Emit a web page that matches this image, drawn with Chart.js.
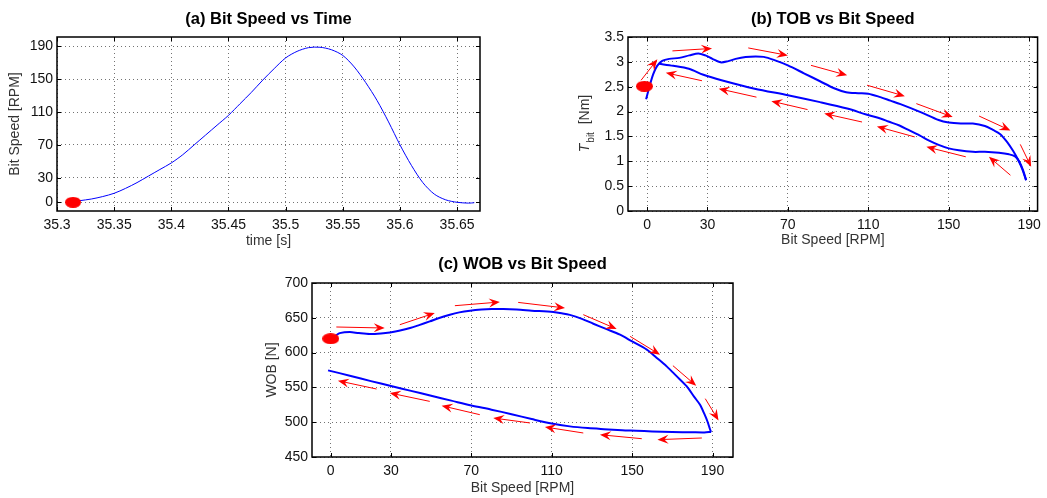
<!DOCTYPE html>
<html>
<head>
<meta charset="utf-8">
<script src="https://cdn.jsdelivr.net/npm/chart.js@4.4.0/dist/chart.umd.min.js"></script>
<style>
  body { margin: 0; background: #fff; width: 1047px; height: 498px; position: relative; overflow: hidden; }
  canvas { position: absolute; }
</style>
</head>
<body>
<canvas id="speedChart" width="490" height="250" style="left:0;top:0"></canvas>
<canvas id="tobChart" width="487" height="250" style="left:560px;top:0"></canvas>
<canvas id="wobChart" width="500" height="248" style="left:240px;top:250px"></canvas>
<script>
// (a) bit speed vs time
const timeS = [35.315, 35.32, 35.33, 35.34, 35.35, 35.36, 35.37, 35.38, 35.39, 35.40, 35.41, 35.42, 35.43, 35.44, 35.45,
  35.46, 35.47, 35.48, 35.49, 35.50, 35.51, 35.52, 35.53, 35.54, 35.55, 35.56, 35.57, 35.58, 35.59, 35.60,
  35.61, 35.62, 35.63, 35.64, 35.65, 35.66, 35.665];
const bitSpeedRpm = [1, 2, 4, 7, 11, 17, 24, 32, 40, 48, 58, 70, 82, 94, 106,
  120, 134, 149, 163, 176, 184, 188.5, 189, 186, 179, 165, 146, 124, 98, 70,
  45, 24, 10, 3, 0, -1, -0.5];

// (b) torque on bit vs bit speed, speed-up branch then return branch
const tobUpSpeed = [-0.5, 1.5, 3, 5, 7.5, 11, 16, 21, 25.5, 29, 32.5, 36.5, 40, 44, 49, 54, 58, 63, 70, 78, 86, 93, 99,
  105, 110, 116, 121, 126, 136, 145, 150, 156, 162, 168, 172, 175.5, 179, 182, 184.5, 186.5, 188.5];
const tobUp = [2.25, 2.55, 2.75, 2.92, 3.02, 3.06, 3.08, 3.13, 3.17, 3.13, 3.06, 2.99, 3.01, 3.06, 3.10, 3.11, 3.10, 3.04, 2.93, 2.77, 2.61, 2.47, 2.39,
  2.37, 2.36, 2.29, 2.22, 2.15, 1.99, 1.83, 1.78, 1.76, 1.76, 1.71, 1.63, 1.55, 1.39, 1.21, 1.03, 0.85, 0.62];
const tobDownSpeed = [188.5, 187, 185, 183, 180, 175, 168, 162, 155, 150, 145, 140, 135.5, 130, 125.5, 120, 116, 109,
  99.5, 86, 70, 53.5, 37, 28, 20.8, 13, 6];
const tobDown = [0.62, 0.82, 1.0, 1.10, 1.14, 1.17, 1.19, 1.19, 1.22, 1.26, 1.33, 1.42, 1.52, 1.63, 1.72, 1.80, 1.86, 1.94,
  2.06, 2.19, 2.33, 2.46, 2.63, 2.74, 2.86, 2.92, 2.96];

// (c) weight on bit vs bit speed
const wobUpSpeed = [0.5, 2.5, 4.5, 9.5, 14, 19.5, 25, 29.5, 34, 39.5, 44, 49.3, 54, 59.3, 64, 69.3, 75, 80, 86, 92.5, 100,
  110.8, 115, 119, 125, 130.7, 137, 144, 150, 157.3, 162, 167.2, 172, 177.2, 181, 183.8, 186, 187.5, 188.8, 189.3];
const wobUp = [621, 624.5, 628, 629.5, 628, 626.7, 627.5, 629, 631.5, 635.3, 639.5, 644.8, 649.8, 654.5, 657.8, 660.2, 661.8, 662.5, 662.5, 661.8, 660.3,
  658.3, 656.5, 654.2, 648.5, 641.5, 634, 625.7, 616, 604.2, 593, 580.2, 566.5, 551.4, 536, 525, 511.5, 501, 489.5, 486];
const wobDownSpeed = [189.3, 186, 180, 170, 160, 152, 145, 136, 128, 119, 110, 100, 90, 80, 70, 60, 50, 40, 30, 20, 10, -1.3];
const wobDown = [486, 485.3, 485.5, 486, 486.8, 487.8, 488.5, 490, 491.5, 494, 498, 504.5, 511.5, 518, 524, 531, 538, 545, 552, 559, 566.5, 574.5];

// start markers [x, y]
const startA = [35.314, 0];
const startB = [-1.3, 2.51];
const startC = [0, 620];

// direction arrows [x0, y0, x1, y1] in data units
const tobArrows = [
  [-3, 2.63, 5.1, 3.05], [12.6, 3.22, 32.3, 3.27], [50.3, 3.28, 70, 3.13], [81.5, 2.93, 99.5, 2.73],
  [109.4, 2.53, 128.2, 2.31], [133.9, 2.16, 152, 1.89], [165.1, 1.91, 180.7, 1.62], [185.6, 1.34, 191, 0.89],
  [180.7, 0.72, 170, 1.09], [158.5, 1.09, 138.9, 1.29], [133.1, 1.49, 114.3, 1.70], [106.9, 1.79, 88.1, 1.96],
  [79.8, 2.04, 61.8, 2.21], [54.4, 2.29, 35.6, 2.46], [27.3, 2.62, 9.3, 2.78]
];
const wobArrows = [
  [2.8, 636.8, 26.9, 635.3], [34.4, 640.1, 51.8, 656.9], [61.8, 667.4, 84.2, 672.7], [93.3, 672.1, 116.6, 664.1],
  [125.7, 654.5, 142.3, 633.9], [149, 623.3, 163.9, 597], [170.3, 581.2, 181.9, 552.4], [186.4, 533.8, 193, 502.6],
  [184.7, 477.3, 162.6, 474.9], [154.8, 476.3, 134, 482], [125.7, 484.5, 106.6, 493.1], [99.2, 498.9, 80.9, 506],
  [74.2, 510.8, 55.2, 523.7], [49.3, 529.9, 29.4, 542], [22.8, 547.7, 3.6, 559.6]
];

// ticks
const timeTicks = [35.3, 35.35, 35.4, 35.45, 35.5, 35.55, 35.6, 35.65];
const rpmTicks = [0, 30, 70, 110, 150, 190];
const tobTicks = [0, 0.5, 1, 1.5, 2, 2.5, 3, 3.5];
const wobTicks = [450, 500, 550, 600, 650, 700];

const FONT = '"Liberation Sans", Arial, Helvetica, sans-serif';
Chart.defaults.font.family = FONT;
Chart.defaults.animation = false;

const pts = (xs, ys) => xs.map((x, i) => ({x: x, y: ys[i]}));
const fmt = v => String(Number(v.toFixed(2)));

function makeDot(w, h) {
  const c = document.createElement('canvas');
  c.width = w; c.height = h;
  const g = c.getContext('2d');
  g.fillStyle = '#ff0000';
  g.beginPath();
  g.ellipse(w / 2, h / 2, w / 2, h / 2, 0, 0, Math.PI * 2);
  g.fill();
  return c;
}

function axis(min, max, ticks, title, size, tickPad, titlePad, isX) {
  return {
    type: 'linear', min: min, max: max,
    afterBuildTicks: s => { s.ticks = ticks.map(v => ({value: v})); },
    afterFit: s => { if (isX) s.height = size; else s.width = size; },
    grid: {color: 'rgba(0,0,0,0.55)', drawTicks: false},
    border: {display: false, dash: [1, 3]},
    ticks: {padding: tickPad, font: {size: 14}, color: '#111', callback: fmt, maxRotation: 0, autoSkip: false},
    title: {display: !!title, text: title, font: {size: 14}, color: '#333',
      padding: isX ? {top: 0, bottom: titlePad} : {top: titlePad, bottom: 0}}
  };
}

// box round the plot and inward tick marks
const framePlugin = {
  id: 'frame',
  afterDatasetsDraw(chart) {
    const {ctx, chartArea: a, scales} = chart;
    ctx.save();
    ctx.strokeStyle = '#000';
    ctx.lineWidth = 1;
    ctx.beginPath();
    scales.x.ticks.forEach(t => {
      const p = Math.round(scales.x.getPixelForValue(t.value)) + 0.5;
      ctx.moveTo(p, a.bottom); ctx.lineTo(p, a.bottom - 4);
      ctx.moveTo(p, a.top); ctx.lineTo(p, a.top + 4);
    });
    scales.y.ticks.forEach(t => {
      const p = Math.round(scales.y.getPixelForValue(t.value)) + 0.5;
      ctx.moveTo(a.left, p); ctx.lineTo(a.left + 4, p);
      ctx.moveTo(a.right, p); ctx.lineTo(a.right - 4, p);
    });
    ctx.stroke();
    ctx.lineWidth = 1.5;
    ctx.strokeRect(a.left, a.top, a.right - a.left, a.bottom - a.top);
    ctx.restore();
  }
};

const arrowPlugin = {
  id: 'arrows',
  afterDatasetsDraw(chart, args, opts) {
    if (!opts.list) return;
    const {ctx, scales: {x, y}} = chart;
    ctx.save();
    ctx.strokeStyle = '#ff0000';
    ctx.fillStyle = '#ff0000';
    ctx.lineWidth = 1;
    opts.list.forEach(([x0, y0, x1, y1]) => {
      const ax = x.getPixelForValue(x0), ay = y.getPixelForValue(y0);
      const bx = x.getPixelForValue(x1), by = y.getPixelForValue(y1);
      const ang = Math.atan2(by - ay, bx - ax);
      const L = 11, W = 4.5;
      ctx.beginPath();
      ctx.moveTo(ax, ay);
      ctx.lineTo(bx - Math.cos(ang) * 6, by - Math.sin(ang) * 6);
      ctx.stroke();
      ctx.save();
      ctx.translate(bx, by);
      ctx.rotate(ang);
      ctx.beginPath();
      ctx.moveTo(0, 0);
      ctx.lineTo(-L, -W);
      ctx.lineTo(-L + 4, 0);
      ctx.lineTo(-L, W);
      ctx.closePath();
      ctx.fill();
      ctx.restore();
    });
    ctx.restore();
  }
};

// y title with subscript for the torque plot
const tbitLabel = {
  id: 'tbitLabel',
  afterDraw(chart) {
    const {ctx, chartArea: a} = chart;
    const fT = 'italic 14px ' + FONT, fS = '10px ' + FONT, fN = '14px ' + FONT;
    ctx.save();
    ctx.translate(25, (a.top + a.bottom) / 2);
    ctx.rotate(-Math.PI / 2);
    ctx.fillStyle = '#333';
    ctx.textBaseline = 'middle';
    ctx.textAlign = 'left';
    ctx.font = fT; const wT = ctx.measureText('T').width;
    ctx.font = fS; const wS = ctx.measureText('bit').width;
    ctx.font = fN; const wN = ctx.measureText('  [Nm]').width;
    const x0 = -(wT + wS + wN) / 2;
    ctx.font = fT; ctx.fillText('T', x0, 0);
    ctx.font = fS; ctx.fillText('bit', x0 + wT + 1, 6);
    ctx.font = fN; ctx.fillText('  [Nm]', x0 + wT + wS + 1, 0);
    ctx.restore();
  }
};

function titleOpts(text, top, bottom) {
  return {display: true, text: text, fullSize: false, color: '#000',
    font: {size: 16.5, weight: 'bold'}, padding: {top: top, bottom: bottom}};
}

const lineSet = (data, width) => ({
  data: data, borderColor: '#0000ff', borderWidth: width, pointRadius: 0,
  tension: 0.3, fill: false, order: 1
});
const dotSet = (p, w, h) => ({
  data: [{x: p[0], y: p[1]}], pointStyle: makeDot(w, h), pointRadius: 6,
  showLine: false, order: 0
});

new Chart(document.getElementById('speedChart'), {
  type: 'line',
  data: {datasets: [lineSet(pts(timeS, bitSpeedRpm), 1), dotSet(startA, 16, 11)]},
  options: {
    responsive: false,
    layout: {padding: {right: 10}},
    scales: {
      x: axis(35.3, 35.67, timeTicks, 'time [s]', 39, 6, 0, true),
      y: axis(-10.6, 201.5, rpmTicks, 'Bit Speed [RPM]', 57, 4, 6.6, false)
    },
    plugins: {legend: {display: false}, tooltip: {enabled: false},
      title: titleOpts('(a) Bit Speed vs Time', 10, 7.2)}
  },
  plugins: [framePlugin]
});

new Chart(document.getElementById('tobChart'), {
  type: 'line',
  data: {datasets: [lineSet(pts(tobUpSpeed, tobUp), 2), lineSet(pts(tobDownSpeed, tobDown), 2), dotSet(startB, 17, 11)]},
  options: {
    responsive: false,
    layout: {padding: {right: 4}},
    scales: {
      x: axis(-9.5, 194.2, rpmTicks, 'Bit Speed [RPM]', 39, 6, 1, true),
      y: axis(0, 3.5, tobTicks, '', 68, 4, 0, false)
    },
    plugins: {legend: {display: false}, tooltip: {enabled: false},
      title: titleOpts('(b) TOB vs Bit Speed', 10, 7.2),
      arrows: {list: tobArrows}}
  },
  plugins: [framePlugin, arrowPlugin, tbitLabel]
});

new Chart(document.getElementById('wobChart'), {
  type: 'line',
  data: {datasets: [lineSet(pts(wobUpSpeed, wobUp), 2), lineSet(pts(wobDownSpeed, wobDown), 2), dotSet(startC, 17, 11)]},
  options: {
    responsive: false,
    layout: {padding: {right: 7}},
    scales: {
      x: axis(-9.3, 200.2, rpmTicks, 'Bit Speed [RPM]', 41, 6, 1, true),
      y: axis(450, 700, wobTicks, 'WOB [N]', 72, 4, 23.3, false)
    },
    plugins: {legend: {display: false}, tooltip: {enabled: false},
      title: titleOpts('(c) WOB vs Bit Speed', 5, 8.2),
      arrows: {list: wobArrows}}
  },
  plugins: [framePlugin, arrowPlugin]
});
</script>
</body>
</html>
